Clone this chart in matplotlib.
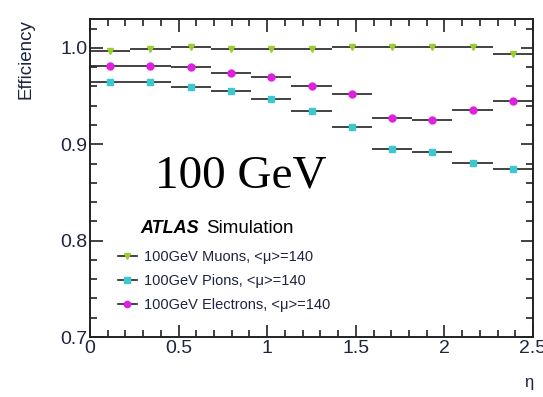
import numpy as np
import matplotlib
matplotlib.use("Agg")
import matplotlib.pyplot as plt
from matplotlib.lines import Line2D
from matplotlib.ticker import MultipleLocator

# eta binning: 11 equal bins from 0 to 2.5
eta_edges = np.linspace(0.0, 2.5, 12)
eta_centers = 0.5 * (eta_edges[:-1] + eta_edges[1:])
eta_halfwidth = 0.5 * np.diff(eta_edges)

muon_eff = [0.997, 0.999, 1.0005, 0.999, 0.9985, 0.9985, 1.0005, 1.0005, 1.0005, 1.0005, 0.994]
pion_eff = [0.965, 0.965, 0.959, 0.955, 0.947, 0.935, 0.918, 0.895, 0.892, 0.881, 0.874]
electron_eff = [0.9816, 0.9816, 0.980, 0.974, 0.970, 0.960, 0.952, 0.927, 0.925, 0.936, 0.945]

series = [
    ("100GeV Muons, <\u03bc>=140", muon_eff, "v", "#9acd32"),
    ("100GeV Pions, <\u03bc>=140", pion_eff, "s", "#3cc8cc"),
    ("100GeV Electrons, <\u03bc>=140", electron_eff, "o", "#e020e0"),
]

plt.rcParams["font.family"] = ["Liberation Sans", "DejaVu Sans"]
text_color = "#1e2340"

W, H = 543, 397
fig = plt.figure(figsize=(W / 100, H / 100), dpi=100)
ax = fig.add_axes([90 / W, 1 - 337 / H, (533 - 90) / W, (337 - 19) / H])

handles = []
for label, vals, marker, color in series:
    ax.errorbar(eta_centers, vals, xerr=eta_halfwidth, fmt=marker, ms=5,
                mfc=color, mec=color, ecolor="#222222", elinewidth=1.2,
                capsize=0, zorder=3)
    handles.append(Line2D([], [], color="#222222", lw=1.2, marker=marker,
                          ms=4.5, mfc=color, mec=color, label=label))

ax.set_xlim(0, 2.5)
ax.set_ylim(0.7, 1.03)
ax.xaxis.set_minor_locator(MultipleLocator(0.1))
ax.yaxis.set_minor_locator(MultipleLocator(0.02))
ax.set_xticks([0, 0.5, 1, 1.5, 2, 2.5])
ax.set_xticklabels(["0", "0.5", "1", "1.5", "2", "2.5"])
ax.set_yticks([0.7, 0.8, 0.9, 1.0])
ax.set_yticklabels(["0.7", "0.8", "0.9", "1.0"])

ax.tick_params(which="both", direction="in", top=True, right=True,
               width=1.2, colors="#222222", labelcolor=text_color)
ax.tick_params(which="major", length=9, labelsize=14, pad=2)
ax.tick_params(which="minor", length=5)
for s in ax.spines.values():
    s.set_linewidth(1.4)
    s.set_color("#222222")

fig.text(155 / W, 1 - 187 / H, "100 GeV", fontsize=34,
         family=["Liberation Serif", "DejaVu Serif"], color="black",
         ha="left", va="baseline")

fig.text(140 / W, 1 - 229 / H, "ATLAS", fontsize=13, fontweight="bold",
         fontstyle="italic", color="black", ha="left", va="center")
fig.text(206 / W, 1 - 229 / H, "Simulation", fontsize=13.5,
         color="black", ha="left", va="center")

ax.legend(handles=handles, loc="upper left",
          bbox_to_anchor=(118 / W, 1 - 250 / H),
          bbox_transform=fig.transFigure, frameon=False, fontsize=10.5,
          handlelength=1.3, handletextpad=0.5, labelspacing=0.68,
          borderpad=0, borderaxespad=0, labelcolor=text_color)

fig.text(26 / W, 1 - 19 / H, "Efficiency", rotation=90, fontsize=13.5,
         color=text_color, ha="center", va="top")
fig.text(533 / W, 1 - 382 / H, "\u03b7", fontsize=12,
         color=text_color, ha="right", va="center")

fig.savefig("out.png", dpi=100)
